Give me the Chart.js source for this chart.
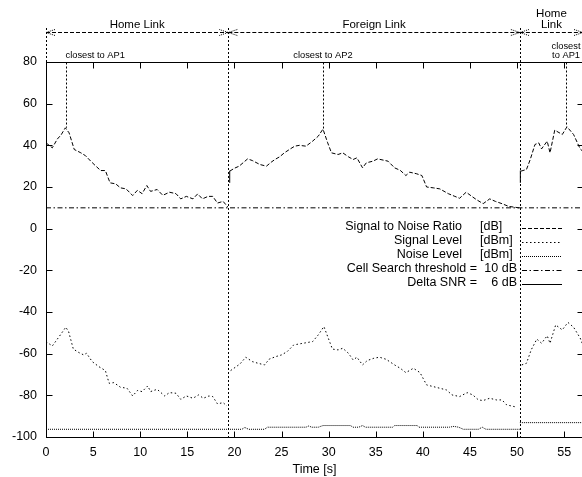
<!DOCTYPE html>
<html><head><meta charset="utf-8">
<script src="https://cdn.jsdelivr.net/npm/chart.js@4/dist/chart.umd.min.js"></script>
<style>
html,body{margin:0;padding:0;overflow:hidden;background:#fff;width:582px;height:477px}
#wrap{width:600px;height:477px}
</style>
</head><body><div id="wrap"><canvas id="c" width="600" height="477"></canvas></div>
<script>
// ---------- data ----------
const snrTime = [0,0.67,1.2,1.6,2.05,2.45,3.0,3.7,4.2,4.75,5.3,5.8,6.3,6.8,7.4,7.9,8.5,9.2,9.7,10.2,10.7,11.1,11.8,12.4,13.1,13.8,14.3,14.9,15.6,16.1,16.6,17.2,17.7,18.2,18.8,19.3,
  19.4,
  19.5,20,20.5,21.4,21.9,22.7,23.4,23.9,24.3,24.8,25.3,25.9,26.4,26.9,27.6,28.3,28.9,29.4,29.9,30.3,31,31.5,32.1,32.6,33,33.6,34,34.7,35.2,36.3,37,37.6,38.2,38.6,39.3,39.9,40.4,41.1,41.8,42.7,43.4,43.9,44.6,45.2,45.7,46.4,47.1,47.7,48.4,49.1,49.6,50.2,
  50.3,
  50.4,51,51.4,51.9,52.3,52.6,53.2,53.5,54,54.8,55.3,56,56.7,57];
const snrDb = [41.2,38.8,43,45,48.4,46,38,36.4,35,32.4,30,27.9,27.9,22,21.5,19.6,19.1,15.9,18.4,16.8,20.7,17.9,18.8,16,17.5,16.8,14.3,15.5,14.3,16.7,14.3,15.5,15.5,12.3,13.1,10.4,
  null,
  27.6,29,30,33.5,32.7,30.8,30,31.9,33.2,34.5,36.4,38.2,39.6,40,39.6,42,44.4,47.8,41.2,36.4,35.6,36.4,34.5,33.2,34,29.2,31.6,32.4,33.5,32.4,29.2,28,25.5,27.1,26.4,25.5,20,19.6,19.1,16.8,15.5,14.6,17.5,15.5,13.9,12,14.3,13.1,12,10.7,10.4,10,
  null,
  27.6,28.4,33.2,40.4,41.2,38.3,42,36.4,47.3,45.2,48.9,45.2,38.3,37];

const sigTime = [0,0.67,1.4,2.1,2.4,2.9,3.5,4.0,4.3,4.9,5.6,6.3,6.7,7.2,7.9,8.6,9.2,9.7,10.2,10.8,11.1,11.8,12.6,13.1,13.8,14.3,14.9,15.6,16.2,16.7,17.3,17.7,18.2,18.8,19.2,
  19.4,
  19.6,20.2,20.6,21.2,21.9,22.5,23.2,23.7,24.4,25,25.6,26.3,27.3,28.3,28.9,29.5,29.9,30.4,31,31.5,32.1,32.6,33,33.6,34.1,34.8,35.4,36.1,37,37.6,38.2,39,39.7,40.4,41.1,41.8,42.5,43.1,43.9,44.7,45.3,45.9,46.4,47.1,47.8,48.4,48.9,49.4,50,
  50.3,
  50.5,51,51.5,52.1,52.6,53.2,53.5,54.1,54.8,55.4,56,56.7,57];
const sigDbm = [-54.2,-56.3,-51.8,-47.3,-49.4,-57.8,-59.5,-60.6,-59.8,-63.8,-66.2,-68.1,-74.2,-73.9,-76.1,-76.6,-80.3,-77.7,-78.2,-75.5,-78.2,-77.1,-80.3,-78.7,-79,-81.9,-80.3,-81.4,-79.8,-81.4,-80.3,-80.6,-84.1,-83.5,-85.1,
  null,
  -68.1,-66.2,-64.9,-61.7,-63.8,-64.6,-65.4,-62.6,-61.4,-60.6,-59,-55.8,-55,-54.2,-51,-47,-51.8,-57.8,-58.2,-57.4,-59.8,-63,-61.7,-65.4,-63.3,-62.2,-61.7,-62.7,-65.4,-67,-69.1,-67,-69.1,-75,-75.8,-76.6,-77.4,-79.8,-80.6,-78.7,-79.8,-82.2,-82.5,-81.4,-82.2,-82.2,-84.6,-85.1,-85.7,
  null,
  -65.4,-64.6,-58.2,-53,-55,-51.4,-55,-46.2,-48.6,-45,-47.3,-52.5,-56];

const noiseTime = [0,20.8,21.1,21.5,23.2,23.5,27.6,27.9,28.2,28.9,29.4,32.3,32.6,33.2,33.6,33.9,36.8,37,39.4,39.6,42.8,43.3,43.8,44.3,45.9,46.3,46.7,50.3,
  50.3,
  50.3,57];
const noiseDbm = [-96.3,-96.3,-95.4,-96.3,-96.3,-95.3,-95.3,-94.7,-95.3,-95.3,-94.5,-94.5,-95.3,-95.3,-94.5,-95.3,-95.3,-94.5,-94.5,-95.3,-95.3,-94.9,-95.3,-96.3,-96.3,-95.3,-96.3,-96.3,
  null,
  -93.1,-93.1];

const thresholdTime = [0, 57];
const thresholdDb = [10, 10];

const deltaTime = [19.5, 19.5, 19.5, 50.35, 50.35];
const deltaDb   = [22, 27.8, null, 22, 27.9];

const handoverTimes = [19.35, 50.3];
const linkSpans = [[0, 19.35], [19.35, 50.3], [50.3, 57]];
const linkLabels = [['Home Link'], ['Foreign Link'], ['Home', 'Link']];
const apTimes = [2.07, 29.4, 55.2];
const apPeakDb = [48.4, 47.8, 48.9];
const apLabels = [['closest to AP1'], ['closest to AP2'], ['closest', 'to AP1']];
const apAlign = ['left', 'center', 'center'];

const xTicks = [0,5,10,15,20,25,30,35,40,45,50,55];
const xMin = 0, xMax = 57, yMin = -100, yMax = 80, yStep = 20;

const legendRows = [
  {label: 'Signal to Noise Ratio', unit: '[dB]', dash: [4,2]},
  {label: 'Signal Level', unit: '[dBm]', dash: [1.5,2.5]},
  {label: 'Noise Level', unit: '[dBm]', dash: [1,1]},
  {label: 'Cell Search threshold =', unit: '10 dB', dash: [5,2.5,1.5,2.5], right: true},
  {label: 'Delta SNR =', unit: '6 dB', dash: [], right: true}
];

// ---------- chart ----------
const FONT = '"Liberation Sans", Arial, Helvetica, sans-serif';
Chart.defaults.font.family = FONT;
Chart.defaults.font.size = 12.5;
Chart.defaults.color = '#000';

function pts(xs, ys) { return xs.map((x, i) => ({x: x, y: ys[i]})); }

function ds(data, dash, extra) {
  return Object.assign({
    data: data, borderColor: '#000', borderWidth: 1, borderDash: dash,
    pointRadius: 0, pointHoverRadius: 0, tension: 0, fill: false, spanGaps: false
  }, extra || {});
}

const decor = {
  id: 'decor',
  afterDraw(chart) {
    const ctx = chart.ctx, a = chart.chartArea, xs = chart.scales.x, ys = chart.scales.y;
    const X = v => Math.round(xs.getPixelForValue(v)) + 0.5;
    const Y = v => Math.round(ys.getPixelForValue(v)) + 0.5;
    const L = Math.round(a.left) + 0.5, R = Math.round(a.right) + 0.5, T = Math.round(a.top) + 0.5, B = Math.round(a.bottom) + 0.5;
    function line(x1, y1, x2, y2, dash) {
      ctx.setLineDash(dash || []);
      ctx.beginPath(); ctx.moveTo(x1, y1); ctx.lineTo(x2, y2); ctx.stroke();
    }
    ctx.save();
    ctx.strokeStyle = '#000'; ctx.fillStyle = '#000'; ctx.lineWidth = 1;
    // frame
    ctx.setLineDash([]);
    ctx.strokeRect(L, T, R - L, B - T);
    // inward ticks
    const TL = 6;
    xs.ticks.forEach(t => { const p = X(t.value); line(p, B, p, B - TL); line(p, T, p, T + TL); });
    ys.ticks.forEach(t => { const p = Y(t.value); line(L, p, L + TL, p); line(R, p, R - TL, p); });

    // handover verticals
    const topLine = 28;
    handoverTimes.forEach(t => line(X(t), topLine, X(t), B, [2, 2]));
    line(L, topLine, L, T, [2, 2]);

    // AP verticals
    apTimes.forEach((t, i) => line(X(t), T, X(t), ys.getPixelForValue(apPeakDb[i]), [2, 2]));

    // link arrows
    const ay = 32.5;
    function head(tip, dir) {
      ctx.setLineDash([1, 1]);
      ctx.beginPath();
      ctx.moveTo(tip + dir * 9, ay - 3); ctx.lineTo(tip, ay); ctx.lineTo(tip + dir * 9, ay + 3);
      ctx.stroke();
    }
    linkSpans.forEach((s, i) => {
      const x1 = xs.getPixelForValue(s[0]), x2 = xs.getPixelForValue(s[1]);
      line(x1, ay, x2, ay, [4, 2]);
      head(x1, 1); head(x2, -1);
      ctx.font = '11.5px ' + FONT;
      ctx.textAlign = 'center'; ctx.textBaseline = 'alphabetic';
      const lines = linkLabels[i];
      const cx = (x1 + x2) / 2;
      lines.forEach((txt, k) => ctx.fillText(txt, cx, 28 - (lines.length - 1 - k) * 11));
    });

    // AP labels
    ctx.font = '9.3px ' + FONT;
    apLabels.forEach((lines, i) => {
      ctx.textAlign = apAlign[i];
      const px = xs.getPixelForValue(apTimes[i]);
      lines.forEach((txt, k) => ctx.fillText(txt, px, 58 - (lines.length - 1 - k) * 9.5));
    });

    // legend
    ctx.font = '12.5px ' + FONT;
    legendRows.forEach((r, i) => {
      const by = 230 + i * 14.1;
      if (r.right) {
        ctx.textAlign = 'right';
        ctx.fillText(r.label, 477, by);
        ctx.fillText(r.unit, 517, by);
      } else {
        ctx.textAlign = 'right';
        ctx.fillText(r.label, 462, by);
        ctx.textAlign = 'left';
        ctx.fillText(r.unit, 480, by);
      }
      line(522, Math.round(by - 2.5) + 0.5, 562, Math.round(by - 2.5) + 0.5, r.dash);
    });
    ctx.restore();
  }
};

new Chart(document.getElementById('c'), {
  type: 'line',
  data: {
    datasets: [
      ds(pts(snrTime, snrDb), [4, 2]),
      ds(pts(sigTime, sigDbm), [1.5, 2.5]),
      ds(pts(noiseTime, noiseDbm), [1, 1]),
      ds(pts(thresholdTime, thresholdDb), [5, 2.5, 1.5, 2.5]),
      ds(pts(deltaTime, deltaDb), [])
    ]
  },
  options: {
    responsive: false, animation: false, devicePixelRatio: 1,
    layout: {padding: {left: 0, right: 17, top: 62, bottom: 0}},
    plugins: {legend: {display: false}, tooltip: {enabled: false}},
    scales: {
      x: {
        type: 'linear', min: xMin, max: xMax,
        grid: {display: false, drawTicks: false}, border: {display: false},
        ticks: {stepSize: 5, autoSkip: false, maxRotation: 0, padding: 8},
        afterBuildTicks: s => { s.ticks = xTicks.map(v => ({value: v})); },
        afterFit: s => { s.height = 40; },
        title: {display: true, text: 'Time [s]', padding: {top: 0, bottom: 0}, font: {size: 12.5}}
      },
      y: {
        min: yMin, max: yMax,
        grid: {display: false, drawTicks: false}, border: {display: false},
        ticks: {stepSize: yStep, padding: 9},
        afterFit: s => { s.width = 46; }
      }
    }
  },
  plugins: [decor]
});
</script>
</body></html>
